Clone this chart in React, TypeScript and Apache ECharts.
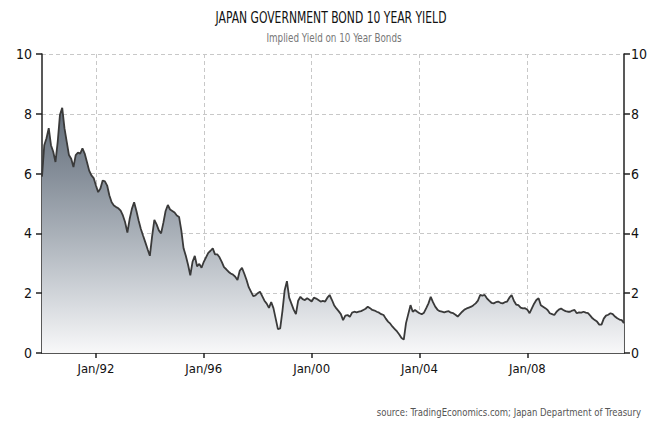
import React, { useEffect, useRef } from "react";
import * as echarts from "echarts";

const START_YEAR = 1990;
const MONTHS = ["Jan", "Feb", "Mar", "Apr", "May", "Jun", "Jul", "Aug", "Sep", "Oct", "Nov", "Dec"];

// Monthly yield (%) Jan 1990 .. Aug 2011
const yields1990_1993 = [
  5.9, 6.95, 7.18, 7.52, 6.95, 6.73, 6.39, 7.07, 7.97, 8.2, 7.52, 7.07,
  6.62, 6.5, 6.22, 6.62, 6.7, 6.67, 6.84, 6.67, 6.39, 6.1, 5.94, 5.85,
  5.6, 5.38, 5.5, 5.77, 5.74, 5.6, 5.27, 5.04, 4.93, 4.88, 4.84, 4.76,
  4.6, 4.37, 4.03, 4.48, 4.82, 5.04, 4.76, 4.43, 4.15, 3.92, 3.7, 3.47,
];
const yields1994_1997 = [
  3.25, 3.9, 4.45, 4.3, 4.1, 4.0, 4.35, 4.75, 4.95, 4.8, 4.75, 4.7,
  4.6, 4.55, 4.1, 3.5, 3.25, 2.95, 2.6, 3.05, 3.25, 2.9, 2.98, 2.85,
  3.05, 3.2, 3.35, 3.42, 3.5, 3.3, 3.3, 3.2, 3.05, 2.87, 2.8, 2.72,
  2.66, 2.62, 2.55, 2.44, 2.75, 2.85, 2.66, 2.45, 2.2, 2.05, 1.9, 1.93,
];
const yields1998_2001 = [
  2.0, 2.05, 1.9, 1.75, 1.65, 1.51, 1.7, 1.5, 1.15, 0.8, 0.82, 1.4,
  2.1, 2.4, 1.85, 1.65, 1.45, 1.3, 1.75, 1.88, 1.8, 1.77, 1.83, 1.78,
  1.72, 1.85, 1.82, 1.77, 1.72, 1.74, 1.72, 1.85, 1.94, 1.78, 1.6, 1.49,
  1.4, 1.3, 1.1, 1.25, 1.27, 1.21, 1.35, 1.38, 1.36, 1.38, 1.4, 1.44,
];
const yields2002_2005 = [
  1.48, 1.55, 1.5, 1.44, 1.42, 1.38, 1.35, 1.3, 1.27, 1.15, 1.05, 0.98,
  0.88, 0.8, 0.72, 0.62, 0.5, 0.45, 1.0, 1.3, 1.6, 1.38, 1.44, 1.38,
  1.33, 1.3, 1.35, 1.5, 1.66, 1.88, 1.7, 1.55, 1.45, 1.4, 1.38, 1.36,
  1.38, 1.4, 1.35, 1.33, 1.28, 1.22, 1.3, 1.38, 1.45, 1.49, 1.52, 1.55,
];
const yields2006_2009 = [
  1.6, 1.66, 1.75, 1.94, 1.92, 1.94, 1.83, 1.75, 1.68, 1.66, 1.7, 1.72,
  1.68, 1.66, 1.7, 1.72, 1.85, 1.94, 1.75, 1.62, 1.6, 1.52, 1.49, 1.5,
  1.45, 1.33, 1.49, 1.65, 1.77, 1.83, 1.6, 1.55, 1.5, 1.44, 1.33, 1.3,
  1.27, 1.38, 1.45, 1.49, 1.44, 1.4, 1.38, 1.38, 1.42, 1.44, 1.33, 1.36,
];
const yields2010_2011 = [
  1.35, 1.38, 1.35, 1.33, 1.25, 1.16, 1.1, 1.05, 0.95, 0.95, 1.15, 1.25,
  1.28, 1.33, 1.3, 1.22, 1.16, 1.12, 1.1, 1.0,
];

const yields = [
  ...yields1990_1993,
  ...yields1994_1997,
  ...yields1998_2001,
  ...yields2002_2005,
  ...yields2006_2009,
  ...yields2010_2011,
];

const categories = yields.map((_, i) => {
  const y = START_YEAR + Math.floor(i / 12);
  return `${MONTHS[i % 12]}/${String(y).slice(2)}`;
});

const labelledTicks = ["Jan/92", "Jan/96", "Jan/00", "Jan/04", "Jan/08"];
const yTicks = [0, 2, 4, 6, 8, 10];

const TITLE = "JAPAN GOVERNMENT BOND 10 YEAR YIELD";
const SUBTITLE = "Implied Yield on 10 Year Bonds";
const SOURCE = "source: TradingEconomics.com; Japan Department of Treasury";

const FONT = "'Liberation Sans Narrow', 'DejaVu Sans Condensed', 'Arial Narrow', 'Liberation Sans', Arial, sans-serif";

export default function App() {
  const ref = useRef<HTMLDivElement>(null);

  useEffect(() => {
    if (!ref.current) return;
    const chart = echarts.init(ref.current, null, { renderer: "svg" });
    const showIdx = (idx: number) => labelledTicks.includes(categories[idx]);

    const yAxisCommon = {
      type: "value" as const,
      min: yTicks[0],
      max: yTicks[yTicks.length - 1],
      interval: 2,
      axisLine: { show: true, lineStyle: { color: "#222", width: 1.5 } },
      axisTick: { show: true, length: 6, lineStyle: { color: "#222", width: 1.5 } },
      axisLabel: { color: "#111", fontSize: 14, fontFamily: FONT },
    };

    chart.setOption({
      animation: false,
      backgroundColor: "#ffffff",
      graphic: [
        {
          type: "text",
          x: 331,
          y: 17,
          scaleX: 0.8,
          style: {
            text: TITLE,
            fontSize: 15,
            fontFamily: FONT,
            fill: "#111",
            textAlign: "center",
            textVerticalAlign: "middle",
          },
        },
        {
          type: "text",
          x: 334,
          y: 38,
          scaleX: 0.85,
          style: {
            text: SUBTITLE,
            fontSize: 11.5,
            fontFamily: FONT,
            fill: "#777",
            textAlign: "center",
            textVerticalAlign: "middle",
          },
        },
        {
          type: "text",
          x: 641,
          y: 412,
          scaleX: 0.86,
          style: {
            text: SOURCE,
            fontSize: 11,
            fontFamily: FONT,
            fill: "#555",
            textAlign: "right",
            textVerticalAlign: "middle",
          },
        },
      ],
      grid: { left: 42, right: 22, top: 54, bottom: 70, containLabel: false },
      xAxis: {
        type: "category",
        data: categories,
        boundaryGap: false,
        axisLine: { show: true, onZero: false, lineStyle: { color: "#555", width: 2 } },
        axisTick: { show: true, interval: (idx: number) => showIdx(idx), length: 5, lineStyle: { color: "#222", width: 1.5 } },
        axisLabel: {
          interval: (idx: number) => showIdx(idx),
          color: "#111",
          fontSize: 13,
          margin: 9,
          fontFamily: FONT,
        },
        splitLine: {
          show: true,
          interval: (idx: number) => showIdx(idx),
          lineStyle: { color: "#c8c8c8", type: [4, 3], width: 1 },
        },
      },
      yAxis: [
        {
          ...yAxisCommon,
          position: "left",
          axisLabel: { ...yAxisCommon.axisLabel, margin: 10 },
          splitLine: { show: true, lineStyle: { color: "#c8c8c8", type: [4, 3], width: 1 } },
        },
        {
          ...yAxisCommon,
          position: "right",
          axisLabel: { ...yAxisCommon.axisLabel, margin: 7 },
          splitLine: { show: false },
        },
      ],
      series: [
        {
          type: "line",
          data: yields,
          yAxisIndex: 0,
          showSymbol: false,
          symbol: "none",
          lineStyle: { color: "#3a3a3a", width: 1.8 },
          areaStyle: {
            color: {
              type: "linear",
              x: 0,
              y: 54,
              x2: 0,
              y2: 353,
              global: true,
              colorStops: [
                { offset: 0, color: "#56606c" },
                { offset: 0.2, color: "#66707c" },
                { offset: 0.4, color: "#858e99" },
                { offset: 0.6, color: "#a9b0b8" },
                { offset: 0.8, color: "#d0d4d9" },
                { offset: 1, color: "#f8f8f9" },
              ],
            },
            opacity: 1,
          },
        },
      ],
    });

    return () => chart.dispose();
  }, []);

  return (
    <div
      ref={ref}
      style={{ position: "fixed", left: 0, top: 0, width: 650, height: 423, background: "#fff" }}
    />
  );
}
